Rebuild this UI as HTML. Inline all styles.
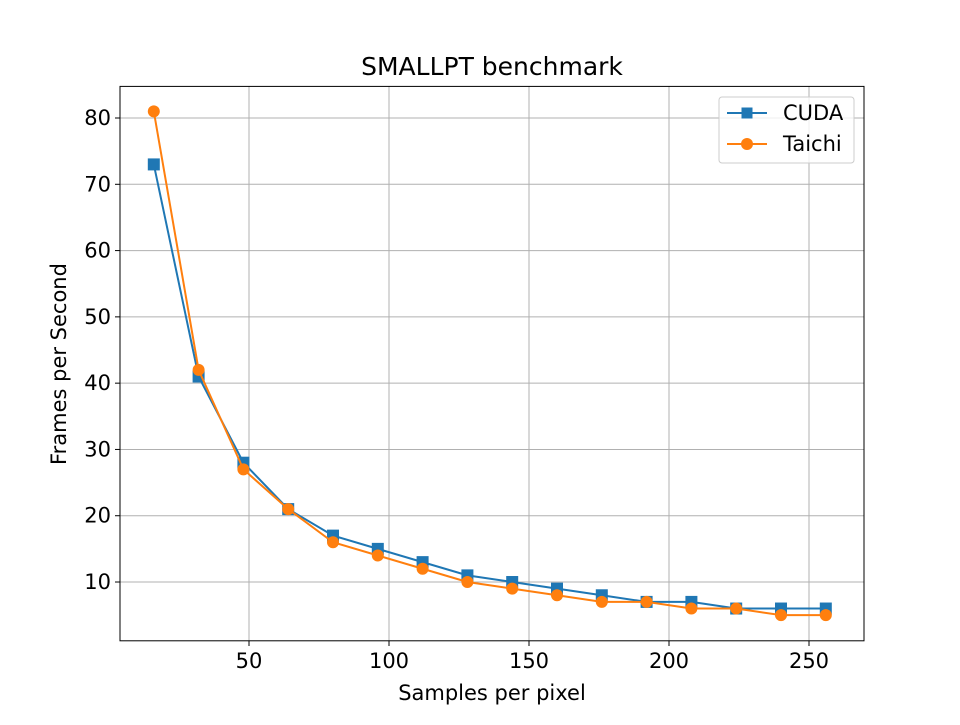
<!DOCTYPE html>
<html><head><meta charset="utf-8"><style>
body{margin:0;background:#fff;}
svg text{font-family:"DejaVu Sans","Liberation Sans",sans-serif;fill:#000;font-size:21px;}
</style></head><body>
<svg id="c" width="960" height="720" xmlns="http://www.w3.org/2000/svg">
<rect width="960" height="720" fill="#fff"/>
<text x="492" y="75" style="font-size:25px" text-anchor="middle">SMALLPT benchmark</text>
<text x="492" y="700" style="font-size:21px" text-anchor="middle">Samples per pixel</text>
<text transform="translate(66,364) rotate(-90)" style="font-size:21px" text-anchor="middle">Frames per Second</text>
<g id="grid"></g><g id="series"></g><g id="ticks"></g>
<rect x="120" y="86.4" width="744" height="554.4" fill="none" stroke="#000" stroke-width="1"/>
<g>
<rect x="719" y="97" width="135" height="66" rx="3" fill="#fff" fill-opacity="0.8" stroke="#ccc"/>
<line x1="727" y1="113" x2="767" y2="113" stroke="#1f77b4" stroke-width="2"/>
<rect x="741.5" y="107.5" width="11" height="11" fill="#1f77b4"/>
<text x="783" y="120" style="font-size:21px">CUDA</text>
<line x1="727" y1="144" x2="767" y2="144" stroke="#ff7f0e" stroke-width="2"/>
<circle cx="747" cy="144" r="6" fill="#ff7f0e"/>
<text x="783" y="151" style="font-size:21px">Taichi</text>
</g>
</svg>
<script>
const samples=[16,32,48,64,80,96,112,128,144,160,176,192,208,224,240,256];
const cuda=[73,41,28,21,17,15,13,11,10,9,8,7,7,6,6,6];
const taichi=[81,42,27,21,16,14,12,10,9,8,7,7,6,6,5,5];
const xTicks=[50,100,150,200,250];
const yTicks=[10,20,30,40,50,60,70,80];
const NS='http://www.w3.org/2000/svg';
const X=v=>109+v*2.8, Y=v=>648.3-v*6.6286;
function mk(t,a,p){const e=document.createElementNS(NS,t);for(const k in a)e.setAttribute(k,a[k]);p.appendChild(e);return e;}
const g=document.getElementById('grid'),tk=document.getElementById('ticks'),s=document.getElementById('series');
xTicks.forEach(v=>{const x=X(v);
const l=mk('line',{x1:x,x2:x,y1:86.4,y2:640.8,stroke:'#b0b0b0','stroke-width':1},g);


mk('line',{x1:x,x2:x,y1:640.8,y2:646,stroke:'#000'},tk);
const t=mk('text',{x:x,y:668,style:'font-size:21px','text-anchor':'middle'},tk);t.textContent=v;

});
yTicks.forEach(v=>{const y=Y(v);
const l=mk('line',{x1:120,x2:864,y1:y,y2:y,stroke:'#b0b0b0','stroke-width':1},g);


mk('line',{x1:115,x2:120,y1:y,y2:y,stroke:'#000'},tk);
const t=mk('text',{x:111,y:y+7,style:'font-size:21px','text-anchor':'end'},tk);t.textContent=v;

});
function draw(data,color,name,sq){
const p=mk('polyline',{points:data.map((v,i)=>X(samples[i])+','+Y(v)).join(' '),fill:'none',stroke:color,'stroke-width':2},s);


data.forEach((v,i)=>{const x=X(samples[i]),y=Y(v);let m;
if(sq)m=mk('rect',{x:x-6,y:y-6,width:12,height:12,fill:color},s);
else m=mk('circle',{cx:x,cy:y,r:6,fill:color},s);

});}
draw(cuda,'#1f77b4','cuda',true);
draw(taichi,'#ff7f0e','taichi',false);
</script>
</body></html>
